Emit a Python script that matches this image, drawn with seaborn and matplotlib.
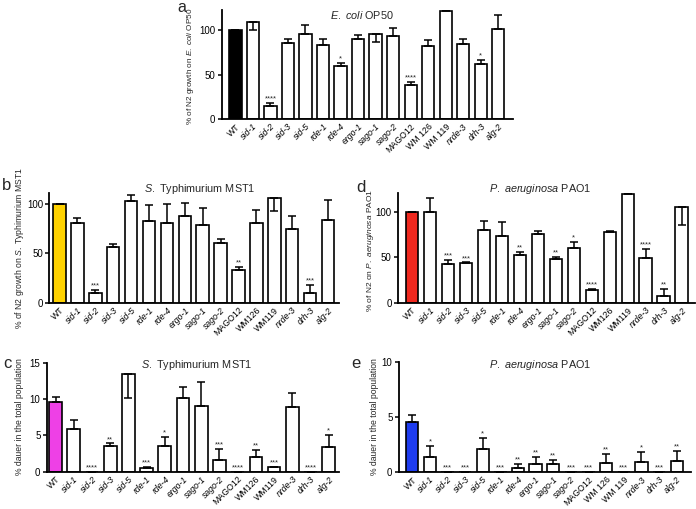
import numpy as np
import pandas as pd
import matplotlib
matplotlib.use("Agg")
import matplotlib.pyplot as plt
import seaborn as sns

sns.set_theme(style="ticks")
plt.rcParams["font.family"] = ["Liberation Sans", "DejaVu Sans"]
plt.rcParams["mathtext.fontset"] = "custom"
plt.rcParams["mathtext.rm"] = "Liberation Sans"
plt.rcParams["mathtext.it"] = "Liberation Sans:italic"

# ---------------- data ----------------
labels_a = ["WT", "sid-1", "sid-2", "sid-3", "sid-5", "rde-1", "rde-4", "ergo-1", "sago-1",
            "sago-2", "MAGO12", "WM 126", "WM 119", "nrde-3", "drh-3", "alg-2"]
labels_bdc = ["WT", "sid-1", "sid-2", "sid-3", "sid-5", "rde-1", "rde-4", "ergo-1", "sago-1",
              "sago-2", "MAGO12", "WM126", "WM119", "nrde-3", "drh-3", "alg-2"]
labels_e = labels_a

# panel a: E. coli OP50 growth
vals_a = [100, 108.5, 15, 85, 95, 83, 60, 90, 95, 92.5, 38.5, 81.5, 120.7, 84, 61.5, 101]
up_a = [0, 0, 3, 5, 10, 7, 2.5, 4, 0, 9, 3.5, 7, 1, 6, 4.5, 15.5]
dn_a = [0, 8.5, 0, 0, 0, 0, 0, 0, 9, 0, 0, 0, 0, 0, 0, 0]
stars_a = ["", "", "****", "", "", "", "*", "", "", "", "****", "", "", "", "*", ""]

# panel b: S. Typhimurium growth
vals_b = [100, 80.7, 9.8, 57, 102.7, 83, 80.7, 87.5, 79, 60.7, 33.2, 80.7, 106, 75, 9.8, 84]
up_b = [0, 5, 3.4, 2.7, 7, 16, 19.6, 14, 17, 3.7, 3, 13, 0, 12.5, 8.5, 19.7]
dn_b = [0, 0, 0, 0, 0, 0, 0, 0, 0, 0, 0, 0, 12.5, 0, 0, 0]
stars_b = ["", "", "***", "", "", "", "", "", "", "", "**", "", "", "", "***", ""]

# panel d: P. aeruginosa growth
vals_d = [100, 100, 42, 43, 80, 73.6, 52, 75.8, 48, 60, 14, 78, 118.7, 49.5, 7.7, 105]
up_d = [0, 14.7, 5, 1.3, 10, 14.7, 3.3, 3.3, 2.5, 6.6, 1.4, 0.4, 2, 9.9, 7, 0]
dn_d = [0, 0, 0, 0, 0, 0, 0, 0, 0, 0, 0, 0, 0, 0, 0, 20]
stars_d = ["", "", "***", "***", "", "", "**", "", "**", "*", "****", "", "", "****", "**", ""]

# panel c: dauer on S. Typhimurium
vals_c = [9.54, 5.87, 0, 3.53, 13.5, 0.46, 3.53, 10.1, 9.08, 1.6, 0, 2.06, 0.6, 8.85, 0, 3.44]
up_c = [0.7, 1.3, 0, 0.37, 0, 0.23, 1.3, 1.56, 3.2, 1.5, 0, 0.9, 0.05, 2.0, 0, 1.65]
dn_c = [0, 0, 0, 0, 3.4, 0, 0, 0, 0, 0, 0, 0, 0, 0, 0, 0]
stars_c = ["", "", "****", "**", "", "***", "*", "", "", "***", "****", "**", "***", "", "****", "*"]

# panel e: dauer on P. aeruginosa
vals_e = [4.53, 1.42, 0, 0, 2.11, 0, 0.39, 0.73, 0.76, 0, 0, 0.88, 0, 0.94, 0, 1.03]
up_e = [0.66, 0.97, 0, 0, 1.03, 0, 0.37, 0.7, 0.36, 0, 0, 0.82, 0, 0.94, 0, 0.94]
dn_e = [0] * 16
stars_e = ["", "*", "***", "***", "*", "***", "**", "**", "**", "***", "***", "**", "***", "*", "***", "**"]

upright = {"WT", "MAGO12", "WM 126", "WM 119", "WM126", "WM119"}

W, H = 696, 509
fig = plt.figure(figsize=(W / 100, H / 100), dpi=100)


def px_axes(l, t, r, b):
    return fig.add_axes([l / W, 1 - b / H, (r - l) / W, (b - t) / H])


def panel(ax, labels, vals, up, dn, stars, wt_color, ylim, yticks, xlim):
    df = pd.DataFrame({"strain": labels, "value": vals})
    colors = {lab: (wt_color if lab == "WT" else "white") for lab in labels}
    sns.barplot(data=df, x="strain", y="value", hue="strain", palette=colors,
                order=labels, dodge=False, legend=False, width=0.7,
                edgecolor="black", linewidth=1.2, saturation=1, ax=ax)
    xs = np.arange(len(labels))
    ax.errorbar(xs, vals, yerr=[dn, up], fmt="none", ecolor="black",
                elinewidth=1.1, capsize=3.2, capthick=1.1, zorder=3)
    for x, v, u, s in zip(xs, vals, up, stars):
        if s:
            ax.annotate(s, (x, v + u), xytext=(0, 0.3), textcoords="offset points",
                        ha="center", va="bottom", fontsize=5.5)
    ax.set_xlim(*xlim)
    ax.set_ylim(*ylim)
    ax.set_yticks(yticks)
    ax.set_xlabel("")
    ax.set_ylabel("")
    sns.despine(ax=ax)
    for sp in ("left", "bottom"):
        ax.spines[sp].set_linewidth(1.3)
        ax.spines[sp].set_color("black")
    ax.tick_params(axis="y", length=3, width=1.1, labelsize=7, pad=1.5, colors="black")
    ax.tick_params(axis="x", length=0, labelsize=6.3, pad=2, colors="black")
    ax.set_xticks(xs)
    ax.set_xticklabels(labels, rotation=45, ha="right", rotation_mode="anchor")
    for t in ax.get_xticklabels():
        if t.get_text() not in upright:
            t.set_fontstyle("italic")


ax_a = px_axes(221.7, 10, 513, 119.3)
panel(ax_a, labels_a, vals_a, up_a, dn_a, stars_a, "black", (0, 122), [0, 50, 100], (-0.78, 15.84))
ax_b = px_axes(49.3, 193.3, 339.3, 302.7)
panel(ax_b, labels_bdc, vals_b, up_b, dn_b, stars_b, "#FFD200", (0, 111), [0, 50, 100], (-0.57, 15.63))
ax_d = px_axes(398, 193.3, 694.7, 302.7)
panel(ax_d, labels_bdc, vals_d, up_d, dn_d, stars_d, "#F0281E", (0, 120), [0, 50, 100], (-0.78, 15.72))
ax_c = px_axes(46.7, 362.7, 339.3, 471.7)
panel(ax_c, labels_bdc, vals_c, up_c, dn_c, stars_c, "#EE40E6", (0, 15), [0, 5, 10, 15], (-0.49, 15.58))
ax_e = px_axes(398.7, 362, 691.3, 472.3)
panel(ax_e, labels_e, vals_e, up_e, dn_e, stars_e, "#1E3CF0", (0, 10), [0, 5, 10], (-0.77, 15.83))


def ftext(x, y, s, **kw):
    fig.text(x / W, 1 - y / H, s, **kw)


# titles
ftext(361.7, 15, r"$\mathit{E.\ coli}$ OP50", ha="center", va="center", fontsize=7.8)
ftext(200, 188.5, r"$\mathit{S.}$ Typhimurium MST1", ha="center", va="center", fontsize=7.8)
ftext(540.7, 188.5, r"$\mathit{P.\ aeruginosa}$ PAO1", ha="center", va="center", fontsize=7.8)
ftext(196.7, 365, r"$\mathit{S.}$ Typhimurium MST1", ha="center", va="center", fontsize=7.8)
ftext(540.7, 365, r"$\mathit{P.\ aeruginosa}$ PAO1", ha="center", va="center", fontsize=7.8)

# y labels
ftext(191, 66, r"% of N2 growth on $\mathit{E.\ coli}$ OP50", rotation=90,
      ha="center", va="center", fontsize=5.9)
ftext(20, 248, r"% of N2 growth on $\mathit{S.}$ Typhimurium MST1", rotation=90,
      ha="center", va="center", fontsize=6.2)
ftext(371, 250, r"% of N2 on $\mathit{P.\ aeruginosa}$ PAO1", rotation=90,
      ha="center", va="center", fontsize=6.0)
ftext(20, 417, "% dauer in the total population", rotation=90,
      ha="center", va="center", fontsize=6.2)
ftext(374.7, 417, "% dauer in the total population", rotation=90,
      ha="center", va="center", fontsize=6.2)

# panel letters
ftext(182, 7, "a", ha="center", va="center", fontsize=11.5)
ftext(7, 186, "b", ha="center", va="center", fontsize=12)
ftext(361, 187, "d", ha="center", va="center", fontsize=12)
ftext(7, 363, "c", ha="center", va="center", fontsize=12)
ftext(356, 363, "e", ha="center", va="center", fontsize=12)

fig.savefig("out.png", dpi=100)
